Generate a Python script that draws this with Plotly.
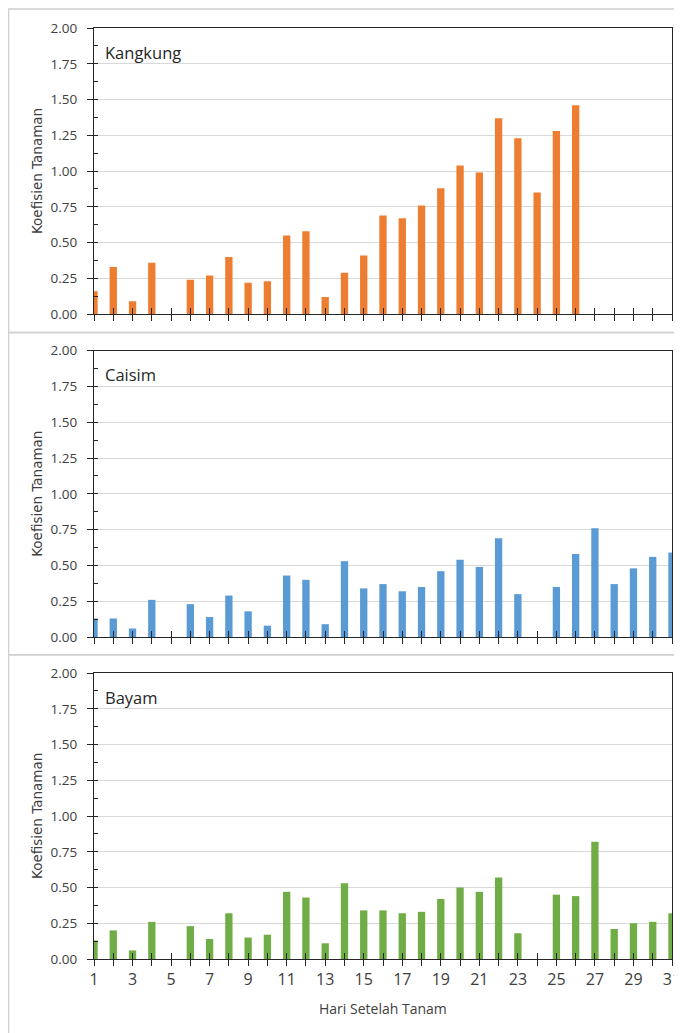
import plotly.graph_objects as go

days = list(range(1, 32))
kangkung = [0.16, 0.33, 0.09, 0.36, None, 0.24, 0.27, 0.40, 0.22, 0.23,
            0.55, 0.58, 0.12, 0.29, 0.41, 0.69, 0.67, 0.76, 0.88, 1.04,
            0.99, 1.37, 1.23, 0.85, 1.28, 1.46, None, None, None, None, None]
caisim = [0.13, 0.13, 0.06, 0.26, None, 0.23, 0.14, 0.29, 0.18, 0.08,
          0.43, 0.40, 0.09, 0.53, 0.34, 0.37, 0.32, 0.35, 0.46, 0.54,
          0.49, 0.69, 0.30, None, 0.35, 0.58, 0.76, 0.37, 0.48, 0.56, 0.59]
bayam = [0.13, 0.20, 0.06, 0.26, None, 0.23, 0.14, 0.32, 0.15, 0.17,
         0.47, 0.43, 0.11, 0.53, 0.34, 0.34, 0.32, 0.33, 0.42, 0.50,
         0.47, 0.57, 0.18, None, 0.45, 0.44, 0.82, 0.21, 0.25, 0.26, 0.32]
names = ["Kangkung", "Caisim", "Bayam"]
colors = ["#ED7D31", "#5B9BD5", "#70AD47"]
series = [kangkung, caisim, bayam]
y_title = "Koefisien Tanaman"
x_title = "Hari Setelah Tanam"
x_labels = [str(d) if d % 2 == 1 else "" for d in days]

# page is 682x1033, body has an 8px default margin
OFF = 8
W, H = 682 - OFF, 1033 - OFF
# target page positions of the plot area
P_LEFT, P_RIGHT, P_TOP, P_BOTTOM = 94, 672, 28, 959.3
ML = P_LEFT - OFF
MT = P_TOP - OFF
MR = (W + OFF) - P_RIGHT
MB = (H + OFF) - P_BOTTOM
PW = W - ML - MR
PH = H - MT - MB


def py(p):
    # page y pixel -> paper fraction
    return (P_BOTTOM - p) / PH


def px(p):
    # page x pixel -> paper fraction
    return (p - P_LEFT) / PW


def clamp(v):
    return min(1.0, max(0.0, v))


panel_px = [(28, 314.3), (350.7, 637.3), (673.3, 959.3)]
domains = [[clamp(py(b)), clamp(py(t))] for t, b in panel_px]

fig = go.Figure()
layout = dict(
    width=W, height=H,
    margin=dict(l=ML, r=MR, t=MT, b=MB, pad=0, autoexpand=False),
    paper_bgcolor="white", plot_bgcolor="white",
    showlegend=False,
    font=dict(family="Open Sans", size=14, color="#404040"),
)
annotations = []
shapes = []
line_col = "#262626"
txt_col = "#404040"

for i, (vals, name, col) in enumerate(zip(series, names, colors)):
    n = i + 1
    ov = n + 3
    xa = "x" if n == 1 else f"x{n}"
    ya = "y" if n == 1 else f"y{n}"
    fig.add_trace(go.Bar(x=days, y=vals, marker=dict(color=col, line=dict(width=0)),
                         width=0.38, xaxis=xa, yaxis=ya, name=name))
    fig.add_trace(go.Scatter(x=days, y=vals, mode="markers", marker=dict(opacity=0),
                             hoverinfo="skip", xaxis=f"x{ov}", yaxis=f"y{ov}"))
    layout[f"xaxis{n}"] = dict(
        domain=[0, 1], anchor=ya, range=[1, 31], tickmode="array", tickvals=days,
        ticktext=x_labels, showticklabels=(n == 3), automargin=False,
        tickfont=dict(family="Open Sans", size=16, color=txt_col),
        ticks="outside", ticklen=6, tickwidth=1, tickcolor=line_col,
        showline=True, linecolor=line_col, linewidth=1, mirror=True,
        showgrid=False, zeroline=False,
    )
    layout[f"yaxis{n}"] = dict(
        domain=domains[i], anchor=xa, range=[0, 2], tickmode="linear", tick0=0, dtick=0.25,
        tickformat=".2f", ticks="outside", ticklen=6, tickwidth=1, tickcolor=line_col,
        showline=True, linecolor=line_col, linewidth=1, mirror=True, automargin=False,
        showgrid=True, gridcolor="#d9d9d9", gridwidth=1, zeroline=False,
        tickfont=dict(family="Open Sans", size=13.5, color=txt_col), ticklabelstandoff=7,
    )
    layout[f"xaxis{ov}"] = dict(
        overlaying=xa, anchor=f"y{ov}", range=[1, 31], tickmode="linear", tick0=1, dtick=1,
        showticklabels=False, ticks="inside", ticklen=6, tickwidth=1, tickcolor=line_col,
        showline=False, showgrid=False, zeroline=False, automargin=False,
    )
    layout[f"yaxis{ov}"] = dict(
        overlaying=ya, anchor=f"x{ov}", range=[0, 2], tickmode="linear", tick0=0, dtick=0.125,
        showticklabels=False, ticks="inside", ticklen=4, tickwidth=1, tickcolor=line_col,
        showline=False, showgrid=False, zeroline=False, automargin=False,
    )
    annotations.append(dict(
        text=name, xref=f"{xa} domain", yref=f"{ya} domain", x=0.0156, y=0.916,
        xanchor="left", yanchor="middle", showarrow=False,
        font=dict(family="Open Sans", size=16.5, color="#262626"),
    ))
    t, b = panel_px[i]
    annotations.append(dict(
        text=y_title, xref="paper", yref="paper", x=px(37), y=py((t + b) / 2),
        xanchor="center", yanchor="middle", textangle=-90, showarrow=False,
        font=dict(family="DejaVu Sans", size=13.5, color=txt_col),
    ))

annotations.append(dict(
    text=x_title, xref="paper", yref="paper", x=0.5, y=py(1009),
    xanchor="center", yanchor="middle", showarrow=False,
    font=dict(family="Open Sans", size=14, color=txt_col),
))

# chart-area borders (light grey)
border = dict(color="#d0d0d0", width=1.5)
for top, bot in [(9, 332.5), (332.5, 655), (655, 1045)]:
    shapes.append(dict(type="rect", xref="paper", yref="paper",
                       x0=px(8.5), x1=px(695), y0=py(bot), y1=py(top),
                       line=border, fillcolor="rgba(0,0,0,0)", layer="below"))

layout["annotations"] = annotations
layout["shapes"] = shapes
fig.update_layout(**layout)
fig.write_html("out.html")
